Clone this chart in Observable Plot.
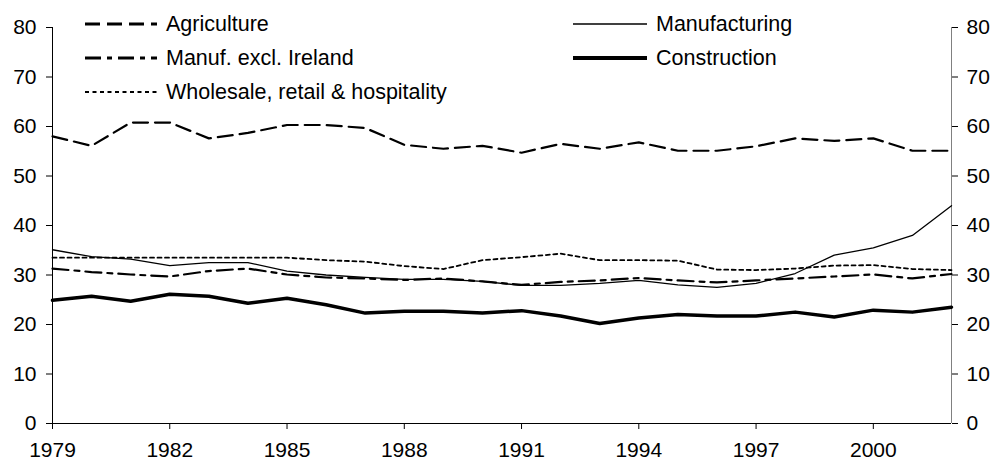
<!DOCTYPE html>
<html><head><meta charset="utf-8">
<script src="https://cdn.jsdelivr.net/npm/d3@7"></script>
<script src="https://cdn.jsdelivr.net/npm/@observablehq/plot@0.6"></script>
<style>
html,body{margin:0;padding:0;background:#fff;}
#wrap{position:relative;width:994px;height:463px;font-family:"Liberation Sans",Arial,sans-serif;}
.leg{position:absolute;height:34px;display:flex;align-items:center;font-size:21.5px;color:#000;white-space:nowrap;}
.leg svg{display:block;margin-right:9px;}
</style></head><body><div id="wrap"></div>
<script>
const years = [1979,1980,1981,1982,1983,1984,1985,1986,1987,1988,1989,1990,1991,1992,1993,1994,1995,1996,1997,1998,1999,2000,2001,2002];
const agriculture      = [58.0,56.1,60.8,60.8,57.6,58.7,60.3,60.3,59.7,56.3,55.5,56.1,54.7,56.5,55.5,56.8,55.1,55.1,56.0,57.6,57.1,57.6,55.1,55.1];
const manufacturing    = [35.1,33.7,33.2,31.9,32.5,32.5,30.8,30.0,29.5,29.1,29.1,28.7,27.9,27.9,28.3,28.9,28.0,27.5,28.3,30.3,34.0,35.5,38.0,44.0];
const manufExclIreland = [31.3,30.6,30.1,29.7,30.8,31.3,30.1,29.5,29.3,29.0,29.3,28.7,28.0,28.6,28.9,29.4,28.9,28.5,28.9,29.3,29.7,30.1,29.3,30.2];
const construction     = [24.9,25.7,24.7,26.1,25.7,24.3,25.3,24.0,22.3,22.7,22.7,22.3,22.8,21.7,20.2,21.3,22.0,21.7,21.7,22.5,21.5,22.9,22.5,23.5];
const wholesale        = [33.5,33.5,33.5,33.5,33.5,33.5,33.5,33.0,32.7,31.8,31.2,33.0,33.6,34.3,33.0,33.0,32.9,31.1,31.0,31.3,31.9,32.0,31.2,31.0];
const xTicks = [1979,1982,1985,1988,1991,1994,1997,2000];
const yTicks = [0,10,20,30,40,50,60,70,80];

const series = [
  {name:"Agriculture", values:agriculture, width:2.2, dash:"15,7", legW:3},
  {name:"Manuf. excl. Ireland", values:manufExclIreland, width:2.2, dash:"16,6,5,6", legW:3},
  {name:"Wholesale, retail & hospitality", values:wholesale, width:1.8, dash:"4,3.5", legW:2},
  {name:"Manufacturing", values:manufacturing, width:1.3, dash:null, legW:1.4},
  {name:"Construction", values:construction, width:3.5, dash:null, legW:4}
];

const lineMarks = series.map(s => Plot.lineY(
  years.map((y,i)=>({year:y, value:s.values[i]})),
  {x:"year", y:"value", stroke:"#000", strokeWidth:s.width, strokeDasharray:s.dash || undefined}
));

const chart = Plot.plot({
  width:994, height:463,
  marginLeft:52, marginRight:43, marginTop:27, marginBottom:40,
  x:{domain:[1979,2002]},
  y:{domain:[0,80]},
  style:{fontFamily:'"Liberation Sans", Arial, sans-serif', fontSize:"21px", color:"#000", background:"#fff", overflow:"visible"},
  marks:[
    Plot.axisX({ticks:xTicks, tickFormat:d=>String(d), tickSize:6, tickPadding:13, label:null}),
    Plot.axisY({anchor:"left", ticks:yTicks, tickSize:6, tickPadding:10, label:null}),
    Plot.axisY({anchor:"right", ticks:yTicks, tickSize:6, tickPadding:9, label:null}),
    Plot.ruleX([1979], {stroke:"#000"}),
    Plot.ruleX([2002], {stroke:"#808080"}),
    Plot.ruleY([0], {stroke:"#000"}),
    ...lineMarks
  ]
});
const wrap = document.getElementById("wrap");
wrap.appendChild(chart);

// legend overlay
const legPos = [
  {left:85, top:24, w:72},
  {left:85, top:58, w:72},
  {left:85, top:92, w:72},
  {left:573, top:24, w:74},
  {left:573, top:58, w:74}
];
series.forEach((s,i)=>{
  const p = legPos[i];
  const d = document.createElement("div");
  d.className = "leg";
  d.style.left = p.left + "px";
  d.style.top = (p.top - 17) + "px";
  const svg = d3.create("svg").attr("width", p.w).attr("height", 10);
  svg.append("line").attr("x1",0).attr("x2",p.w).attr("y1",5).attr("y2",5)
    .attr("stroke","#000").attr("stroke-width",s.legW)
    .attr("stroke-dasharray", s.dash || null);
  d.appendChild(svg.node());
  const t = document.createElement("span");
  t.textContent = s.name;
  d.appendChild(t);
  wrap.appendChild(d);
});
</script>
</body></html>
